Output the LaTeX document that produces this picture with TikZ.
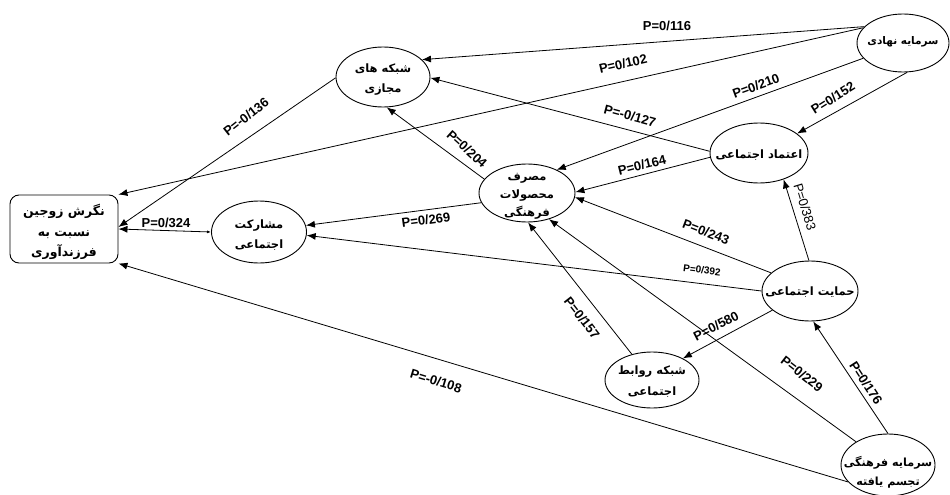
\documentclass[tikz,border=0pt]{standalone}
\usepackage{fontspec}
\setsansfont{Liberation Sans}
\newfontfamily\fafont[Script=Arabic]{DejaVu Sans}
\TeXXeTstate=1
\usetikzlibrary{shapes.geometric,arrows.meta}
\newcommand{\fatxt}[1]{\beginR#1\endR}
\begin{document}
\begin{tikzpicture}[x=1pt,y=-1pt,
  ell/.style={draw, ellipse, line width=0.9pt, inner sep=0pt},
  txt/.style={font=\fafont\bfseries\fontsize{11.5}{20}\selectfont, align=center, inner sep=0pt},
  lab/.style={font=\sffamily\bfseries\fontsize{13}{15}\selectfont, inner sep=0pt},
  arr/.style={-{Latex[length=9pt,width=7pt]}, line width=0.8pt}]
\useasboundingbox (0,0) rectangle (950,495);
% nodes
\node[draw, rounded corners=9pt, line width=0.9pt, minimum width=108pt, minimum height=68pt, inner sep=0pt] (box) at (64,229) {};
\node[txt, font=\fafont\bfseries\fontsize{12.5}{20.5}\selectfont] (boxT) at (64,232) {\fatxt{نگرش زوجین}\\\fatxt{نسبت به}\\\fatxt{فرزندآوری}};
\node[ell, minimum width=95pt, minimum height=62pt] (mosh) at (259,232) {};
\node[txt] (moshT) at (259,235) {\fatxt{مشارکت}\\\fatxt{اجتماعی}};
\node[ell, minimum width=94pt, minimum height=60pt] (majazi) at (383,77) {};
\node[txt] (majaziT) at (383,80) {\fatxt{شبکه های}\\\fatxt{مجازی}};
\node[ell, minimum width=92pt, minimum height=58pt] (nahadi) at (903,43) {};
\node[txt, font=\fafont\bfseries\fontsize{10.5}{14}\selectfont] (nahadiT) at (903,42) {\fatxt{سرمایه نهادی}};
\node[ell, minimum width=98pt, minimum height=60pt] (etemad) at (759,153) {};
\node[txt] (etemadT) at (759,155) {\fatxt{اعتماد اجتماعی}};
\node[ell, minimum width=96pt, minimum height=58pt] (masraf) at (527,193) {};
\node[txt, font=\fafont\bfseries\fontsize{11.5}{18}\selectfont] (masrafT) at (527,196) {\fatxt{مصرف}\\\fatxt{محصولات}\\\fatxt{فرهنگی}};
\node[ell, minimum width=96pt, minimum height=60pt] (hemayat) at (810,291) {};
\node[txt] (hemayatT) at (810,292) {\fatxt{حمایت اجتماعی}};
\node[ell, minimum width=94pt, minimum height=56pt] (ravabet) at (652,380) {};
\node[txt, font=\fafont\bfseries\fontsize{11.5}{21}\selectfont] (ravabetT) at (652,382) {\fatxt{شبکه روابط}\\\fatxt{اجتماعی}};
\node[ell, minimum width=94pt, minimum height=62pt] (farhangi) at (888,465) {};
\node[txt, font=\fafont\bfseries\fontsize{11.2}{19}\selectfont] (farhangiT) at (888,472) {\fatxt{سرمایه فرهنگی}\\\fatxt{تجسم یافته}};
% connectors
\draw[arr] (nahadi.157) -- (majazi.24);
\draw[arr] (nahadi.159) -- (box.north east);
\draw[arr] (nahadi.201) -- (masraf.38);
\draw[arr] (nahadi.278) -- (etemad.27);
\draw[arr] (etemad.178) -- (majazi.-1);
\draw[arr] (etemad.185) -- (masraf.1);
\draw[arr] (masraf.162) -- (majazi.277);
\draw[arr] (masraf.192) -- (mosh.8);
\draw[arr] (majazi.181) -- ([yshift=2pt]box.east);
\draw[{Latex[length=4pt,width=3pt]}-{Latex[length=9pt,width=7pt]}, line width=0.8pt] (mosh.west) -- (box.east);
\draw[arr] (hemayat.155) -- (masraf.-5);
\draw[arr] (hemayat.180) -- (mosh.-4);
\draw[arr] (hemayat.92) -- (etemad.-47);
\draw[arr] (hemayat.207) -- (ravabet.35);
\draw[arr] (ravabet.128) -- (masraf.272);
\draw[arr] (farhangi.144) -- (masraf.310);
\draw[arr] (farhangi.90) -- (hemayat.276);
\draw[arr] (farhangi.203) -- (box.south east);
% labels
\node[lab] (l116) at (667,26) {P=0/116};
\node[lab, rotate=13] (l102) at (623,64) {P=0/102};
\node[lab, rotate=20] (l210) at (756,86) {P=0/210};
\node[lab, rotate=32] (l152) at (833,98) {P=0/152};
\node[lab, rotate=-15] (l127) at (630,116) {P=-0/127};
\node[lab, rotate=14] (l164) at (642,165) {P=0/164};
\node[lab, rotate=-42] (l204) at (467,149) {P=0/204};
\node[lab, rotate=8] (l269) at (426,220) {P=0/269};
\node[lab, rotate=38] (l136) at (246,117) {P=-0/136};
\node[lab] (l324) at (166,223) {P=0/324};
\node[lab, rotate=-21] (l243) at (706,232) {P=0/243};
\node[lab, rotate=-7, font=\sffamily\bfseries\fontsize{10}{12}\selectfont] (l392) at (702,270) {P=0/392};
\node[lab, rotate=-73, font=\sffamily\fontsize{13}{15}\selectfont] (l383) at (805,207) {P=0/383};
\node[lab, rotate=27] (l580) at (716,326) {P=0/580};
\node[lab, rotate=-52] (l157) at (582,318) {P=0/157};
\node[lab, rotate=-38] (l229) at (802,374) {P=0/229};
\node[lab, rotate=-57] (l176) at (866,383) {P=0/176};
\node[lab, rotate=-17] (l108) at (436,381) {P=-0/108};
\end{tikzpicture}
\end{document}
